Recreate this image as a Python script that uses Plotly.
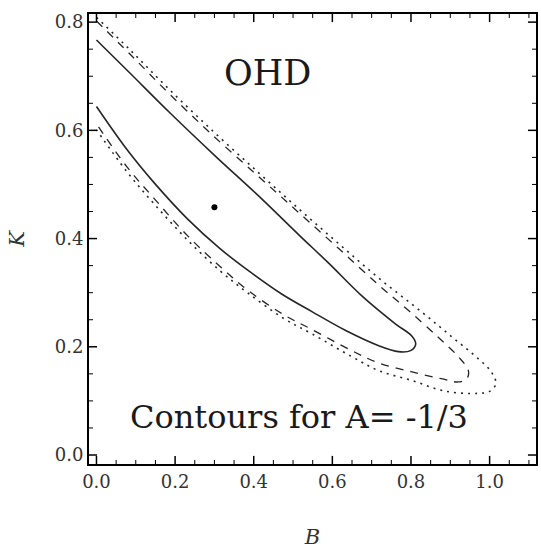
import plotly.graph_objects as go

# ---- data (B, K) ----
solid_B = [0.0, 0.085, 0.186, 0.303, 0.415, 0.516, 0.590, 0.675, 0.761, 0.802, 0.812,
           0.799, 0.768, 0.718, 0.634, 0.548, 0.470, 0.384, 0.315, 0.232, 0.148, 0.077, 0.0]
solid_K = [0.767, 0.706, 0.633, 0.552, 0.477, 0.406, 0.355, 0.294, 0.242, 0.220, 0.205,
           0.193, 0.191, 0.202, 0.230, 0.265, 0.298, 0.342, 0.381, 0.436, 0.502, 0.565, 0.644]

dashed_B = [0.0, 0.085, 0.186, 0.303, 0.415, 0.516, 0.617, 0.718, 0.794, 0.870, 0.920, 0.946,
            0.942, 0.920, 0.877, 0.800, 0.718, 0.649, 0.548, 0.477, 0.384, 0.315, 0.232, 0.148, 0.077, 0.0]
dashed_K = [0.802, 0.741, 0.667, 0.586, 0.513, 0.447, 0.381, 0.314, 0.267, 0.217, 0.182, 0.156,
            0.141, 0.135, 0.141, 0.154, 0.170, 0.193, 0.232, 0.259, 0.305, 0.348, 0.405, 0.473, 0.533, 0.612]

dotted_B = [0.0, 0.085, 0.186, 0.303, 0.415, 0.516, 0.617, 0.718, 0.826, 0.903, 0.971, 1.004, 1.016,
            1.001, 0.971, 0.887, 0.801, 0.718, 0.649, 0.548, 0.477, 0.384, 0.315, 0.232, 0.148, 0.077, 0.0]
dotted_K = [0.809, 0.749, 0.675, 0.594, 0.520, 0.454, 0.390, 0.327, 0.265, 0.219, 0.178, 0.154, 0.132,
            0.118, 0.114, 0.118, 0.138, 0.156, 0.182, 0.224, 0.252, 0.300, 0.340, 0.397, 0.463, 0.524, 0.601]

best_B = [0.30]
best_K = [0.458]

x_major = [0.0, 0.2, 0.4, 0.6, 0.8, 1.0]
x_minor = [0.05, 0.1, 0.15, 0.25, 0.3, 0.35, 0.45, 0.5, 0.55, 0.65, 0.7, 0.75,
           0.85, 0.9, 0.95, 1.05, 1.1]
y_major = [0.0, 0.2, 0.4, 0.6, 0.8]
y_minor = [0.05, 0.1, 0.15, 0.25, 0.3, 0.35, 0.45, 0.5, 0.55, 0.65, 0.7, 0.75]

x_range = [-0.019, 1.118]
y_range = [-0.0166, 0.815]

serif = "DejaVu Serif"
ink = "#262626"

fig = go.Figure()
fig.add_trace(go.Scatter(x=dotted_B, y=dotted_K, mode="lines",
                         line=dict(color=ink, width=1.6, dash="2px,5px", shape="spline", smoothing=1.0),
                         showlegend=False))
fig.add_trace(go.Scatter(x=dashed_B, y=dashed_K, mode="lines",
                         line=dict(color=ink, width=1.3, dash="8px,7px", shape="spline", smoothing=1.0),
                         showlegend=False))
fig.add_trace(go.Scatter(x=solid_B, y=solid_K, mode="lines",
                         line=dict(color=ink, width=1.6, shape="spline", smoothing=1.0),
                         showlegend=False))
fig.add_trace(go.Scatter(x=best_B, y=best_K, mode="markers",
                         marker=dict(color="black", size=6), showlegend=False))

fig.add_annotation(x=0.434, y=0.706, xref="x", yref="y", text="OHD", showarrow=False,
                   font=dict(family=serif, size=35, color="#1a1a1a"))
fig.add_annotation(x=0.515, y=0.07, xref="x", yref="y", text="Contours for A= -1/3", showarrow=False,
                   font=dict(family=serif, size=32, color="#1a1a1a"))

# inward tick marks on all four sides, placed through the axis scales
MAJ, MIN = 0.018, 0.009   # tick lengths as fractions of the plot area
def add_xtick(v, L, w):
    fig.add_shape(type="line", xref="x", yref="paper", x0=v, x1=v, y0=0, y1=L,
                  line=dict(color="black", width=w), layer="above")
    fig.add_shape(type="line", xref="x", yref="paper", x0=v, x1=v, y0=1, y1=1 - L,
                  line=dict(color="black", width=w), layer="above")
def add_ytick(v, L, w):
    fig.add_shape(type="line", xref="paper", yref="y", x0=0, x1=L, y0=v, y1=v,
                  line=dict(color="black", width=w), layer="above")
    fig.add_shape(type="line", xref="paper", yref="y", x0=1, x1=1 - L, y0=v, y1=v,
                  line=dict(color="black", width=w), layer="above")

for v in x_major:
    add_xtick(v, MAJ, 1.5)
for v in x_minor:
    add_xtick(v, MIN, 1)
for v in y_major:
    add_ytick(v, MAJ, 1.5)
for v in y_minor:
    add_ytick(v, MIN, 1)

fig.update_xaxes(range=x_range, showgrid=False, zeroline=False,
                 showline=True, linecolor="black", linewidth=2, mirror=True,
                 ticks="", tickmode="array", tickvals=x_major,
                 ticktext=[f"{v:.1f}" for v in x_major],
                 tickfont=dict(family=serif, size=18, color="#333"),
                 title=dict(text="<i>B</i>", font=dict(family=serif, size=21, color="#333"), standoff=40))
fig.update_yaxes(range=y_range, showgrid=False, zeroline=False,
                 showline=True, linecolor="black", linewidth=2, mirror=True,
                 ticks="", tickmode="array", tickvals=y_major,
                 ticktext=[f"{v:.1f}" for v in y_major],
                 tickfont=dict(family=serif, size=18, color="#333"),
                 title=dict(text="<i>K</i>", font=dict(family=serif, size=21, color="#333"), standoff=24))

fig.update_layout(width=541, height=549, margin=dict(l=89, r=3, t=14, b=83),
                  plot_bgcolor="white", paper_bgcolor="white")

fig.write_html("out.html")
